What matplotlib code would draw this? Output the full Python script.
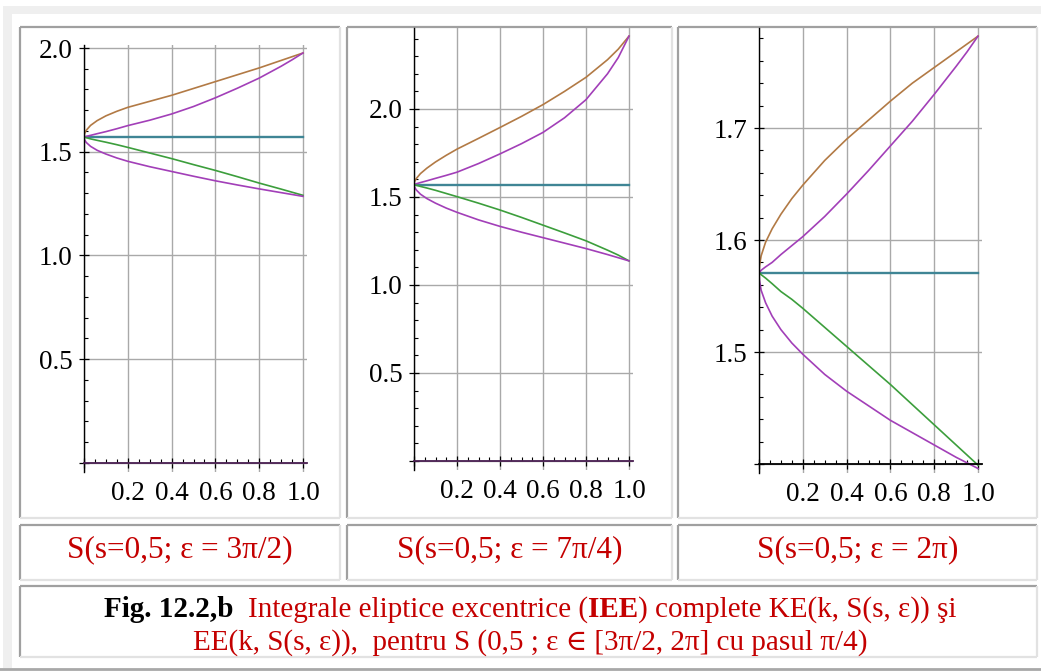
import matplotlib
matplotlib.use('Agg')
import matplotlib.pyplot as plt
from matplotlib.patches import Rectangle
import numpy as np

W, H = 1041, 671
SERIF = ['Liberation Serif', 'DejaVu Serif']
plt.rcParams['font.family'] = SERIF

k = [0, 0.002, 0.01, 0.03, 0.06, 0.1, 0.15, 0.2, 0.3, 0.4, 0.5, 0.6, 0.7, 0.8, 0.9, 0.95, 1.0]
half_pi = [1.5708, 1.5708]

# eps = 3pi/2
ke1_up = [1.571, 1.586, 1.603, 1.627, 1.650, 1.673, 1.695, 1.714, 1.743, 1.772, 1.805, 1.838, 1.871, 1.904, 1.940, 1.958, 1.976]
ee1_up = [1.571, 1.572, 1.574, 1.579, 1.587, 1.597, 1.611, 1.626, 1.652, 1.682, 1.718, 1.760, 1.806, 1.855, 1.912, 1.943, 1.976]
ke1_lo = [1.571, 1.570, 1.568, 1.562, 1.555, 1.546, 1.534, 1.521, 1.494, 1.467, 1.438, 1.410, 1.380, 1.349, 1.320, 1.305, 1.290]
ee1_lo = [1.571, 1.559, 1.545, 1.526, 1.507, 1.489, 1.470, 1.454, 1.428, 1.405, 1.382, 1.360, 1.340, 1.321, 1.303, 1.294, 1.285]

# eps = 7pi/4
ke2_up = [1.571, 1.586, 1.604, 1.633, 1.664, 1.699, 1.737, 1.772, 1.833, 1.895, 1.958, 2.025, 2.100, 2.180, 2.280, 2.340, 2.414]
ee2_up = [1.571, 1.572, 1.575, 1.582, 1.592, 1.606, 1.623, 1.641, 1.690, 1.745, 1.803, 1.867, 1.950, 2.053, 2.200, 2.292, 2.414]
ke2_lo = [1.571, 1.570, 1.567, 1.560, 1.551, 1.538, 1.520, 1.502, 1.465, 1.426, 1.384, 1.340, 1.296, 1.251, 1.198, 1.170, 1.137]
ee2_lo = [1.571, 1.558, 1.541, 1.516, 1.491, 1.465, 1.437, 1.413, 1.370, 1.333, 1.300, 1.269, 1.238, 1.207, 1.173, 1.155, 1.137]

# eps = 2pi
ke3_up = [1.571, 1.577, 1.586, 1.598, 1.610, 1.623, 1.637, 1.649, 1.671, 1.690, 1.707, 1.724, 1.740, 1.754, 1.768, 1.775, 1.782]
ee3_up = [1.571, 1.571, 1.573, 1.576, 1.580, 1.587, 1.595, 1.603, 1.621, 1.641, 1.662, 1.684, 1.706, 1.730, 1.755, 1.768, 1.782]
ke3_lo = [1.571, 1.571, 1.569, 1.566, 1.561, 1.554, 1.547, 1.539, 1.522, 1.505, 1.488, 1.471, 1.453, 1.435, 1.417, 1.408, 1.399]
ee3_lo = [1.571, 1.564, 1.555, 1.544, 1.532, 1.520, 1.508, 1.498, 1.480, 1.465, 1.452, 1.439, 1.428, 1.417, 1.406, 1.401, 1.396]

xticks = [0, 0.2, 0.4, 0.6, 0.8, 1.0]
xticklabels = ['', '0.2', '0.4', '0.6', '0.8', '1.0']
captions = ['S(s=0,5; ε = 3π/2)', 'S(s=0,5; ε = 7π/4)', 'S(s=0,5; ε = 2π)']

BROWN = '#b27a45'
MAG = '#a23fb8'
TEAL = '#3f8595'
GREEN = '#3c9e3c'
RED = '#c40000'

fig = plt.figure(figsize=(W / 100, H / 100), dpi=100)

# page background / table cells, drawn in pixel coordinates
bg = fig.add_axes([0, 0, 1, 1])
bg.set_xlim(0, W)
bg.set_ylim(H, 0)
bg.axis('off')
bg.add_patch(Rectangle((3, 6), W - 3, 8, color='#efefef', lw=0))
bg.add_patch(Rectangle((3, 6), 9, H - 9, color='#efefef', lw=0))
bg.plot([0, W], [668.5, 668.5], color='#a8a8a8', lw=2)


def cell(x0, y0, x1, y1):
    bg.plot([x0, x1], [y0, y0], color='#a0a0a0', lw=1.6, solid_capstyle='butt')
    bg.plot([x0, x0], [y0, y1], color='#a0a0a0', lw=1.6, solid_capstyle='butt')
    bg.plot([x0, x1], [y1, y1], color='#e2e2e2', lw=1.6, solid_capstyle='butt')
    bg.plot([x1, x1], [y0, y1], color='#e2e2e2', lw=1.6, solid_capstyle='butt')


cols = [(20, 340), (347, 672), (678, 1037)]
for c0, c1 in cols:
    cell(c0, 27, c1, 518)
    cell(c0, 525, c1, 580)
cell(20, 586, 1037, 657)


def panel(x0px, xscale, y0px, yscale, ybase, ylim, yticks, yticklabels, minor_y,
          up_ke, up_ee, lo_ke, lo_ee, axis_color):
    xlim = (0, 1.018)
    L = x0px
    R = x0px + xlim[1] * xscale
    T = y0px - (ylim[1] - ybase) * yscale
    B = y0px + (ybase - ylim[0]) * yscale
    ax = fig.add_axes([L / W, 1 - B / H, (R - L) / W, (B - T) / H])
    ax.set_facecolor('none')
    ax.set_xlim(*xlim)
    ax.set_ylim(*ylim)
    for s in ['top', 'right']:
        ax.spines[s].set_visible(False)
    ax.spines['left'].set_position(('data', 0))
    ax.spines['bottom'].set_position(('data', ybase))
    ax.spines['bottom'].set_color(axis_color)
    ax.spines['bottom'].set_linewidth(1.3)
    ax.spines['left'].set_linewidth(1.0)
    ax.set_xticks(xticks)
    ax.set_xticklabels(xticklabels)
    ax.set_xticks(np.arange(0, 1.001, 0.05), minor=True)
    ax.set_yticks(yticks)
    ax.set_yticklabels(yticklabels)
    ax.set_yticks(minor_y, minor=True)
    ax.tick_params(which='major', direction='inout', length=6.5, width=0.9,
                   color='black', labelsize=19.5)
    ax.tick_params(which='minor', direction='in', length=3, width=0.8, color='black')
    ax.tick_params(axis='x', which='major', pad=9.5)
    ax.tick_params(axis='y', which='major', pad=5.0)
    ax.grid(True, which='major', color='#a9a9a9', lw=1.0)
    ax.set_axisbelow(True)
    ax.plot([0, 1.0], half_pi, color=TEAL, lw=1.7)
    ax.plot(k, up_ke, color=BROWN, lw=1.2)
    ax.plot(k, up_ee, color=MAG, lw=1.2)
    ax.plot(k, lo_ke, color=GREEN, lw=1.2)
    ax.plot(k, lo_ee, color=MAG, lw=1.2)
    return ax


panel(84, 219, 463, 207.5, 0.0, (-0.045, 2.016),
      [0, 0.5, 1.0, 1.5, 2.0], ['', '0.5', '1.0', '1.5', '2.0'],
      np.arange(0, 2.001, 0.1), ke1_up, ee1_up, ke1_lo, ee1_lo, '#4a1f52')
panel(414, 215, 461, 176, 0.0, (-0.05, 2.46),
      [0, 0.5, 1.0, 1.5, 2.0], ['', '0.5', '1.0', '1.5', '2.0'],
      np.arange(0, 2.401, 0.1), ke2_up, ee2_up, ke2_lo, ee2_lo, '#4a1f52')
panel(759, 219, 464, 1120, 1.4, (1.392, 1.789),
      [1.4, 1.5, 1.6, 1.7], ['', '1.5', '1.6', '1.7'],
      np.arange(1.4, 1.781, 0.02), ke3_up, ee3_up, ke3_lo, ee3_lo, 'black')

for (c0, c1), cap in zip(cols, captions):
    fig.text((c0 + c1) / 2 / W, 1 - 557 / H, cap, color=RED, fontsize=22.5,
             ha='center', va='baseline', family=SERIF)


def rich_line(segments, cx, by, size):
    renderer = fig.canvas.get_renderer()
    texts = []
    for s, color, weight in segments:
        t = fig.text(0, 1 - by / H, s, color=color, weight=weight, fontsize=size,
                     ha='left', va='baseline', family=SERIF)
        texts.append(t)
    widths = [t.get_window_extent(renderer).width for t in texts]
    x = cx - sum(widths) / 2
    for t, w in zip(texts, widths):
        t.set_x(x / W)
        x += w


rich_line([('Fig. 12.2,b  ', 'black', 'bold'),
           ('Integrale eliptice excentrice (', RED, 'normal'),
           ('IEE', RED, 'bold'),
           (') complete KE(k, S(s, ε)) şi', RED, 'normal')], 530, 617, 21)
rich_line([('EE(k, S(s, ε)),  pentru S (0,5 ; ε ∈ [3π/2, 2π] cu pasul π/4)', RED, 'normal')],
          530, 650, 21)

fig.savefig('out.png', dpi=100)
